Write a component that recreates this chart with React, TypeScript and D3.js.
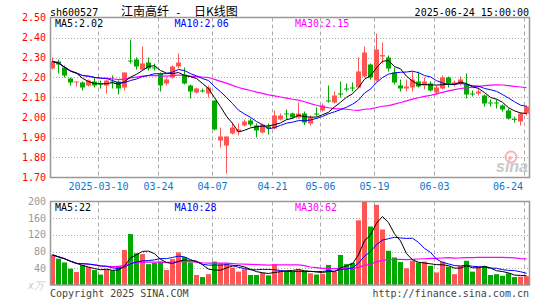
import React from 'react';
import * as d3 from 'd3';

const dates = [
  '2025-02-26','2025-02-27','2025-02-28',
  '2025-03-03','2025-03-04','2025-03-05','2025-03-06','2025-03-07',
  '2025-03-10','2025-03-11','2025-03-12','2025-03-13','2025-03-14',
  '2025-03-17','2025-03-18','2025-03-19','2025-03-20','2025-03-21',
  '2025-03-24','2025-03-25','2025-03-26','2025-03-27','2025-03-28',
  '2025-03-31','2025-04-01','2025-04-02','2025-04-03',
  '2025-04-07','2025-04-08','2025-04-09','2025-04-10','2025-04-11',
  '2025-04-14','2025-04-15','2025-04-16','2025-04-17','2025-04-18',
  '2025-04-21','2025-04-22','2025-04-23','2025-04-24','2025-04-25',
  '2025-04-28','2025-04-29','2025-04-30',
  '2025-05-06','2025-05-07','2025-05-08','2025-05-09',
  '2025-05-12','2025-05-13','2025-05-14','2025-05-15','2025-05-16',
  '2025-05-19','2025-05-20','2025-05-21','2025-05-22','2025-05-23',
  '2025-05-26','2025-05-27','2025-05-28','2025-05-29','2025-05-30',
  '2025-06-03','2025-06-04','2025-06-05','2025-06-06',
  '2025-06-09','2025-06-10','2025-06-11','2025-06-12','2025-06-13',
  '2025-06-16','2025-06-17','2025-06-18','2025-06-19','2025-06-20',
  '2025-06-23','2025-06-24',
];

const opens = [
  2.245, 2.28, 2.25, 2.195, 2.175, 2.175, 2.16, 2.18, 2.17, 2.16,
  2.18, 2.18, 2.15, 2.285, 2.29, 2.24, 2.275, 2.25, 2.22, 2.17,
  2.20, 2.255, 2.215, 2.16, 2.125, 2.135, 2.12, 2.085, 1.885, 1.86,
  1.92, 1.93, 1.96, 1.985, 1.96, 1.925, 1.955, 1.945, 1.99, 2.02,
  2.02, 2.00, 2.02, 1.97, 2.02, 2.035, 2.085, 2.075, 2.12, 2.145,
  2.15, 2.15, 2.205, 2.265, 2.185, 2.305, 2.30, 2.225, 2.16, 2.145,
  2.15, 2.18, 2.16, 2.17, 2.125, 2.145, 2.20, 2.165, 2.17, 2.165,
  2.12, 2.12, 2.11, 2.075, 2.075, 2.06, 2.035, 1.993, 1.98, 2.02,
];
const highs = [
  2.30, 2.29, 2.26, 2.20, 2.18, 2.18, 2.19, 2.20, 2.185, 2.19,
  2.21, 2.185, 2.225, 2.39, 2.30, 2.355, 2.30, 2.27, 2.225, 2.20,
  2.26, 2.32, 2.25, 2.165, 2.15, 2.145, 2.16, 2.085, 1.95, 1.905,
  1.975, 1.97, 1.99, 1.995, 1.97, 1.97, 1.97, 2.035, 2.02, 2.04,
  2.025, 2.075, 2.03, 2.01, 2.05, 2.07, 2.16, 2.13, 2.18, 2.17,
  2.175, 2.30, 2.355, 2.27, 2.42, 2.375, 2.31, 2.25, 2.19, 2.19,
  2.23, 2.23, 2.20, 2.18, 2.16, 2.21, 2.205, 2.185, 2.205, 2.22,
  2.135, 2.15, 2.115, 2.09, 2.09, 2.065, 2.045, 2.005, 2.025, 2.06,
];
const lows = [
  2.24, 2.22, 2.20, 2.16, 2.155, 2.135, 2.155, 2.15, 2.145, 2.12,
  2.145, 2.115, 2.135, 2.27, 2.24, 2.235, 2.235, 2.235, 2.13, 2.16,
  2.195, 2.245, 2.165, 2.095, 2.12, 2.125, 2.10, 1.935, 1.85, 1.72,
  1.915, 1.91, 1.955, 1.955, 1.90, 1.92, 1.915, 1.94, 1.985, 1.99,
  1.995, 1.995, 1.963, 1.96, 2.005, 2.03, 2.075, 2.07, 2.10, 2.13,
  2.13, 2.15, 2.20, 2.19, 2.18, 2.27, 2.23, 2.165, 2.13, 2.13,
  2.13, 2.15, 2.14, 2.13, 2.115, 2.14, 2.15, 2.155, 2.16, 2.095,
  2.105, 2.11, 2.055, 2.055, 2.045, 2.03, 1.99, 1.975, 1.96, 2.01,
];
const closes = [
  2.28, 2.265, 2.21, 2.175, 2.18, 2.15, 2.185, 2.16, 2.165, 2.185,
  2.175, 2.145, 2.225, 2.28, 2.255, 2.27, 2.245, 2.245, 2.16, 2.19,
  2.255, 2.275, 2.17, 2.13, 2.145, 2.13, 2.15, 1.94, 1.905, 1.905,
  1.95, 1.94, 1.98, 1.965, 1.935, 1.965, 1.945, 2.01, 2.01, 2.015,
  2.00, 2.02, 1.975, 2.00, 2.015, 2.06, 2.08, 2.11, 2.115, 2.14,
  2.148, 2.23, 2.325, 2.20, 2.34, 2.312, 2.245, 2.175, 2.145, 2.155,
  2.19, 2.155, 2.18, 2.135, 2.15, 2.20, 2.17, 2.175, 2.19, 2.115,
  2.118, 2.13, 2.07, 2.07, 2.07, 2.04, 1.995, 1.99, 2.02, 2.055,
];
const volumes = [
  72, 63, 54, 39, 31, 48, 43, 36, 25, 37,
  35, 46, 84, 122, 76, 74, 50, 53, 56, 36,
  62, 78, 67, 54, 24, 19, 26, 56, 52, 52,
  42, 32, 38, 24, 24, 29, 23, 50, 34, 34,
  32, 36, 34, 28, 25, 27, 48, 32, 72, 50,
  53, 155, 200, 140, 192, 133, 82, 66, 55, 40,
  58, 54, 56, 46, 30, 56, 44, 26, 46, 58,
  32, 44, 45, 24, 26, 22, 28, 19, 20, 21,
];

const tickDates = ['2025-03-10', '2025-03-24', '2025-04-07', '2025-04-21', '2025-05-06', '2025-05-19', '2025-06-03', '2025-06-24'];
const priceTicks = [2.5, 2.4, 2.3, 2.2, 2.1, 2.0, 1.9, 1.8, 1.7];
const volTicks = [200, 160, 120, 80, 40];

const RED = '#ff5555';
const GREEN = '#00a800';
const MONO = '"DejaVu Sans Mono", monospace';

function movingAvg(arr: number[], n: number): number[] {
  return arr.map((_, i) => {
    const s = Math.max(0, i - n + 1);
    return d3.mean(arr.slice(s, i + 1)) as number;
  });
}

export default function App() {
  const W = 545, H = 300;
  const L = 50, R = 530;
  const pTop = 17.5, pBot = 177.5;
  const vTop = 201.5, vBot = 285;

  const idx = d3.range(dates.length);
  const x = d3.scaleLinear().domain([0, dates.length - 1]).range([52.5, 52.5 + 6 * (dates.length - 1)]);
  const yP = d3.scaleLinear().domain([1.7, 2.5]).range([pBot, pTop]);
  const yV = d3.scaleLinear().domain([0, 200]).range([vBot, vTop]);

  const pm5 = movingAvg(closes, 5), pm10 = movingAvg(closes, 10), pm30 = movingAvg(closes, 30);
  const vm5 = movingAvg(volumes, 5), vm10 = movingAvg(volumes, 10), vm30 = movingAvg(volumes, 30);

  const lineP = d3.line<number>().x((_, i) => x(i)).y((d) => yP(d));
  const lineV = d3.line<number>().x((_, i) => x(i)).y((d) => yV(d));

  const last = dates.length - 1;
  const tickIdx = tickDates.map((d) => dates.indexOf(d));
  const fmtTick = (d: string, k: number) => (k === 0 ? d : d.slice(5));

  return (
    <svg width={W} height={H} style={{ position: 'absolute', left: 0, top: 0, background: '#fff' }} fontFamily={MONO}>
      <defs>
        <clipPath id="clipP"><rect x={L} y={pTop} width={R - L} height={pBot - pTop} /></clipPath>
        <clipPath id="clipV"><rect x={L} y={vTop} width={R - L} height={vBot - vTop} /></clipPath>
      </defs>
      <rect x={0} y={0} width={W} height={H} fill="#fff" />

      {/* header */}
      <text x={50} y={15.5} fontSize={10} fill="#000">sh600527</text>
      <text x={121} y={16} fontSize={12} fontFamily='"Noto Sans CJK SC", sans-serif' fill="#000">江南高纤</text>
      <text x={175} y={15.5} fontSize={11} fill="#000">-</text>
      <text x={194} y={16} fontSize={12} fontFamily='"Noto Sans CJK SC", sans-serif' fill="#000">日K线图</text>
      <text x={529} y={15.5} fontSize={10} fill="#000" textAnchor="end">2025-06-24 15:00:00</text>

      {/* price grid */}
      {priceTicks.slice(1, -1).map((t) => (
        <line key={'pg' + t} x1={L} x2={R} y1={Math.round(yP(t)) + 0.5} y2={Math.round(yP(t)) + 0.5} stroke="#aaa" strokeDasharray="1,2" />
      ))}
      {tickIdx.map((i) => (
        <line key={'pv' + i} x1={x(i) - 2} x2={x(i) - 2} y1={pTop} y2={pBot} stroke="#aaa" strokeDasharray="4,3" />
      ))}
      {priceTicks.map((t) => (
        <text key={'pl' + t} x={46} y={yP(t) + 3.5} fontSize={10} fill="#ff0000" textAnchor="end">{t.toFixed(2)}</text>
      ))}

      {/* candles */}
      <g clipPath="url(#clipP)">
        {idx.map((i) => {
          const up = closes[i] >= opens[i];
          const c = up ? RED : GREEN;
          const yt = yP(Math.max(opens[i], closes[i]));
          const yb = yP(Math.min(opens[i], closes[i]));
          return (
            <g key={'c' + i}>
              <line x1={x(i)} x2={x(i)} y1={yP(highs[i])} y2={yP(lows[i])} stroke={c} strokeWidth={1} />
              <rect x={x(i) - 2.5} y={yt} width={5} height={Math.max(1, yb - yt)} fill={c} />
            </g>
          );
        })}
        <path d={lineP(pm30) || ''} fill="none" stroke="#ff00ff" strokeWidth={1.2} />
        <path d={lineP(pm10) || ''} fill="none" stroke="#0000ff" strokeWidth={1} />
        <path d={lineP(pm5) || ''} fill="none" stroke="#000" strokeWidth={1} />
      </g>

      {/* sina logo */}
      <g opacity={0.9}>
        <circle cx={511} cy={157} r={5.5} fill="none" stroke="#f2b0b0" strokeWidth={2} />
        <circle cx={510} cy={158} r={2} fill="#f2b0b0" />
        <text x={496} y={171.5} fontSize={16} fontWeight="bold" fontStyle="italic" fontFamily='"Liberation Sans", sans-serif' fill="#c4c4c4">sina</text>
      </g>

      <rect x={L + 0.5} y={pTop} width={R - L - 1} height={pBot - pTop} fill="none" stroke="#999" strokeWidth={1.5} />

      <text x={55} y={27} fontSize={10} fill="#000">{'MA5:' + pm5[last].toFixed(2)}</text>
      <text x={174.5} y={27} fontSize={10} fill="#0000ff">{'MA10:' + pm10[last].toFixed(2)}</text>
      <text x={295} y={27} fontSize={10} fill="#ff00ff">{'MA30:' + pm30[last].toFixed(2)}</text>

      {/* date labels */}
      {tickIdx.map((i, k) => (
        <text key={'dl' + i} x={k === tickIdx.length - 1 ? 523 : x(i) - 2} y={190} fontSize={10} fill="#0a78d0"
          textAnchor={k === tickIdx.length - 1 ? 'end' : 'middle'}>{fmtTick(tickDates[k], k)}</text>
      ))}

      {/* volume grid */}
      {volTicks.slice(1).map((t) => (
        <line key={'vg' + t} x1={L} x2={R} y1={Math.round(yV(t)) + 0.5} y2={Math.round(yV(t)) + 0.5} stroke="#aaa" strokeDasharray="1,2" />
      ))}
      {tickIdx.map((i) => (
        <line key={'vv' + i} x1={x(i) - 2} x2={x(i) - 2} y1={vTop} y2={vBot} stroke="#aaa" strokeDasharray="4,3" />
      ))}
      {volTicks.map((t) => (
        <text key={'vl' + t} x={46} y={yV(t) + 3.5} fontSize={10} fill="#999" textAnchor="end">{t}</text>
      ))}
      <text x={44} y={289} fontSize={10} fill="#ccc" textAnchor="end" fontStyle="italic">x万</text>

      <g clipPath="url(#clipV)">
        {idx.map((i) => {
          const up = closes[i] >= opens[i];
          return (
            <rect key={'v' + i} x={x(i) - 2.5} y={yV(volumes[i])} width={5} height={vBot - yV(volumes[i])} fill={up ? RED : GREEN} />
          );
        })}
        <path d={lineV(vm30) || ''} fill="none" stroke="#ff00ff" strokeWidth={1.2} />
        <path d={lineV(vm10) || ''} fill="none" stroke="#0000ff" strokeWidth={1} />
        <path d={lineV(vm5) || ''} fill="none" stroke="#000" strokeWidth={1} />
      </g>
      <rect x={L + 0.5} y={vTop} width={R - L - 1} height={vBot - vTop} fill="none" stroke="#999" strokeWidth={1.5} />

      <text x={55} y={211} fontSize={10} fill="#000">{'MA5:' + Math.round(vm5[last])}</text>
      <text x={174.5} y={211} fontSize={10} fill="#0000ff">{'MA10:' + Math.round(vm10[last])}</text>
      <text x={295} y={211} fontSize={10} fill="#ff00ff">{'MA30:' + Math.round(vm30[last])}</text>

      <text x={50} y={296.5} fontSize={10} fill="#444">Copyright 2025 SINA.COM</text>
      <text x={529} y={296.5} fontSize={10} fill="#444" textAnchor="end">http://finance.sina.com.cn</text>
    </svg>
  );
}
